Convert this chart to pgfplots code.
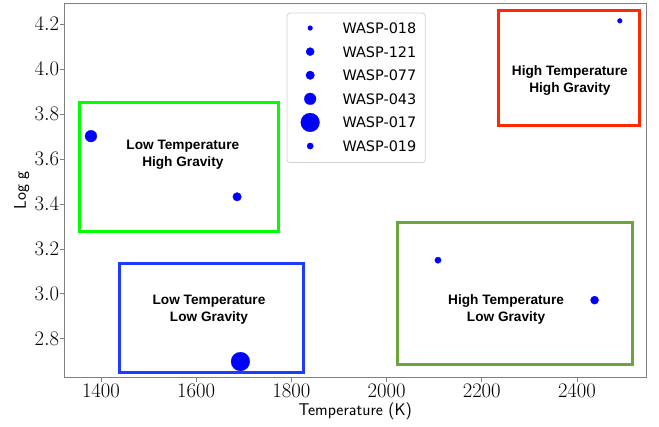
\documentclass[border=0pt]{standalone}
\usepackage{fontspec}
\usepackage{pgfplots}
\pgfplotsset{compat=1.18}

\newfontfamily\dejavu{DejaVu Sans}
\newfontfamily\helv{Liberation Sans}

\definecolor{framegray}{RGB}{128,128,128}
\definecolor{legendgray}{RGB}{210,210,210}
\definecolor{boxred}{RGB}{255,40,0}
\definecolor{boxlime}{RGB}{0,255,0}
\definecolor{boxgreen}{RGB}{108,165,58}
\definecolor{boxblue}{RGB}{30,60,255}
\definecolor{dotblue}{RGB}{0,0,255}

\pgfplotsset{
  planet/.style={only marks, mark=*, color=dotblue, line width=0.2bp,
    mark options={solid, draw=dotblue, fill=dotblue}},
}

\begin{document}
\begin{tikzpicture}
\begin{axis}[
  at={(0,0)}, anchor=south west,
  scale only axis, width=581.7bp, height=374.4bp,
  xmin=1323, xmax=2545, ymin=2.627, ymax=4.293,
  xtick={1400,1600,1800,2000,2200,2400},
  ytick={2.8,3.0,3.2,3.4,3.6,3.8,4.0,4.2},
  xtick pos=left, ytick pos=left,
  tick align=outside, major tick length=4bp,
  tick style={framegray, line width=0.8bp},
  axis line style={framegray, line width=0.8bp},
  ticklabel style={font=\fontsize{21.5}{25}\selectfont},
  yticklabel style={inner sep=1bp, /pgf/number format/.cd, fixed, fixed zerofill, precision=1},
  xticklabel style={inner sep=2bp, /pgf/number format/1000 sep={}},
  xlabel={Temperature (K)}, ylabel={Log g},
  label style={font=\sffamily\fontsize{17}{20}\selectfont},
  xlabel style={at={(axis description cs:0.5,-0.089)}, anchor=center},
  ylabel style={at={(axis description cs:-0.0732,0.5)}, anchor=center},
  legend cell align=left,
  legend image code/.code={%
    \path (-14bp,0bp) (14bp,0bp);
    \draw[#1,overlay] plot coordinates {(0bp,0.8bp)};},
  legend style={
    at={(0.3823,0.9749)}, anchor=north west,
    draw=legendgray, line width=0.8bp, rounded corners=3bp,
    fill=white,
    inner xsep=9bp, inner ysep=9.5bp,
    column sep=18.3bp, row sep=11.1bp,
    font=\dejavu\fontsize{14.5}{17}\selectfont,
    nodes={inner sep=0bp, text height=11bp, text depth=1.5bp},
  },
]

% region boxes
\addplot[draw=boxred, line width=3bp, forget plot]
  coordinates {(2235,3.750) (2531,3.750) (2531,4.262) (2235,4.262)} -- cycle;
\addplot[draw=boxlime, line width=3bp, forget plot]
  coordinates {(1354,3.276) (1773,3.276) (1773,3.853) (1354,3.853)} -- cycle;
\addplot[draw=boxgreen, line width=3bp, forget plot]
  coordinates {(2022,2.686) (2516,2.686) (2516,3.317) (2022,3.317)} -- cycle;
\addplot[draw=boxblue, line width=3bp, forget plot]
  coordinates {(1440,2.649) (1825,2.649) (1825,3.133) (1440,3.133)} -- cycle;

% planets, marker size scaled by planet
\addplot[planet, mark size=2.4bp] coordinates {(2490,4.215)};
\addlegendentry{WASP-018}
\addplot[planet, mark size=4.1bp] coordinates {(2437,2.972)};
\addlegendentry{WASP-121}
\addplot[planet, mark size=4.3bp] coordinates {(1686,3.432)};
\addlegendentry{WASP-077}
\addplot[planet, mark size=5.9bp] coordinates {(1379,3.702)};
\addlegendentry{WASP-043}
\addplot[planet, mark size=9.4bp] coordinates {(1693,2.699)};
\addlegendentry{WASP-017}
\addplot[planet, mark size=3.2bp] coordinates {(2108,3.150)};
\addlegendentry{WASP-019}

% region labels
\begin{scope}[every node/.style={align=center, font=\helv\bfseries\fontsize{13.7}{17}\selectfont}]
\node at (axis cs:2385,3.951) {High Temperature\\High Gravity};
\node at (axis cs:1572,3.618) {Low Temperature\\High Gravity};
\node at (axis cs:2251,2.929) {High Temperature\\Low Gravity};
\node at (axis cs:1627,2.931) {Low Temperature\\Low Gravity};
\end{scope}
\end{axis}
\pgfresetboundingbox
\useasboundingbox (-64.3bp,-49.3bp) rectangle (594.7bp,377.7bp);
\end{tikzpicture}
\end{document}
